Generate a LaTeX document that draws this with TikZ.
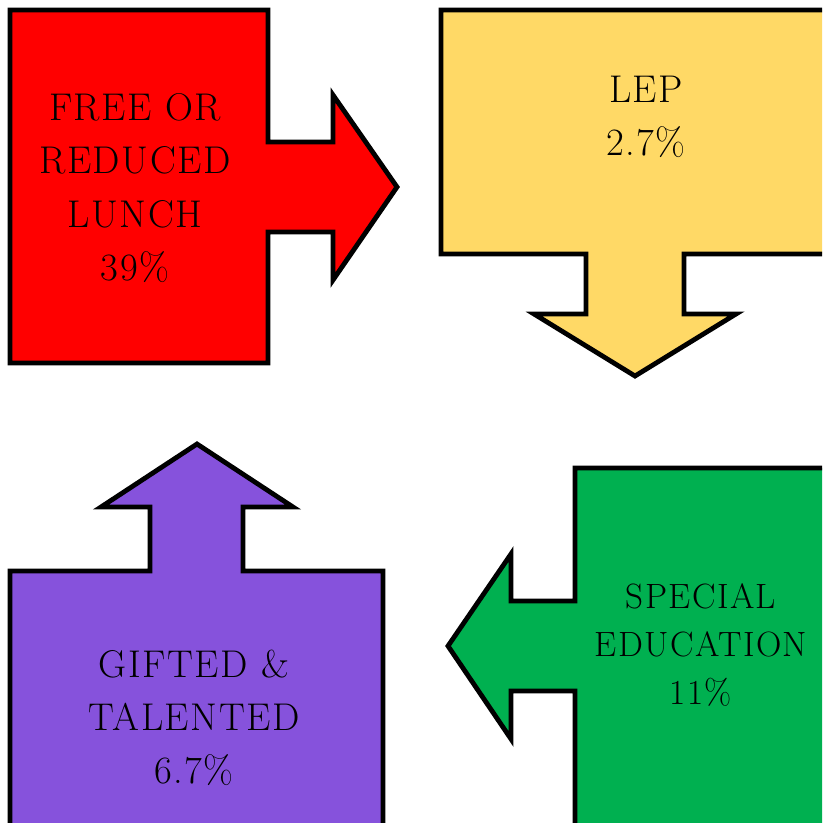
\documentclass[tikz,border=0pt]{standalone}
\usepackage{fontspec}
\setmainfont{Latin Modern Roman}[LetterSpace=4]
\definecolor{lunchred}{RGB}{255,0,0}
\definecolor{lepyellow}{RGB}{255,217,102}
\definecolor{spedgreen}{RGB}{0,176,80}
\definecolor{gtpurple}{RGB}{134,82,220}
\tikzset{
  block/.style={draw=black,line width=4.1pt,line join=miter},
  blocktext/.style={align=center,text=black,font=\fontsize{33}{45.5}\selectfont},
  smalltext/.style={blocktext,font=\fontsize{30}{41}\selectfont}
}
\begin{document}
\begin{tikzpicture}[x=0.03cm,y=-0.03cm]
  \useasboundingbox (0,0) rectangle (822,823);
  \clip (0,0) rectangle (822,823);
  % red box, arrow to the right
  \draw[block,fill=lunchred] (10,10) -- (268,10) -- (268,142) -- (333,142)
    -- (333,95) -- (397,187) -- (333,280) -- (333,232) -- (268,232)
    -- (268,363) -- (10,363) -- cycle;
  % yellow box, arrow down
  \draw[block,fill=lepyellow] (441,10) -- (840,10) -- (840,254) -- (684,254)
    -- (684,314) -- (736,314) -- (635,376) -- (534,314) -- (586,314)
    -- (586,254) -- (441,254) -- cycle;
  % green box, arrow to the left
  \draw[block,fill=spedgreen] (575,468) -- (840,468) -- (840,840) -- (575,840)
    -- (575,691) -- (511,691) -- (511,739) -- (448,646) -- (511,554)
    -- (511,601) -- (575,601) -- cycle;
  % purple box, arrow up
  \draw[block,fill=gtpurple] (10,571) -- (150,571) -- (150,507) -- (101,507)
    -- (197,444) -- (293,507) -- (243,507) -- (243,571) -- (383,571)
    -- (383,840) -- (10,840) -- cycle;
  \node[blocktext] (lunch) at (135,188) {FREE OR\\REDUCED\\LUNCH\\39\%};
  \node[blocktext] (lep) at (646,117) {LEP\\2.7\%};
  \node[smalltext] (sped) at (701,645) {SPECIAL\\EDUCATION\\11\%};
  \node[blocktext] (gifted) at (194,718) {GIFTED \&\\TALENTED\\6.7\%};
\end{tikzpicture}
\end{document}
